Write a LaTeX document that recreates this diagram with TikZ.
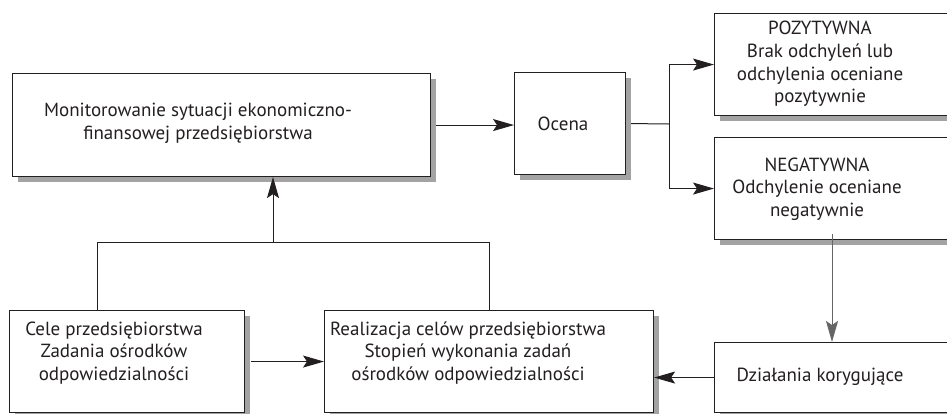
\documentclass[tikz,border=0pt]{standalone}
\usepackage{fontspec}
\setmainfont{PT Sans}
\usetikzlibrary{arrows.meta,shadows}
\definecolor{shad}{HTML}{A3A3A3}
\definecolor{ink}{HTML}{231F20}
\tikzset{
  box/.style={draw=ink, line width=1.1pt, fill=white, rectangle, anchor=north west, inner sep=0pt,
    general shadow={fill=shad, shadow xshift=5pt, shadow yshift=-5pt}},
  txt/.style={align=center, inner sep=0pt, font=\fontsize{19}{22.7}\selectfont, text=ink},
  conn/.style={draw=ink, line width=1pt},
  arr/.style={conn, -{Stealth[length=21pt, width=12pt, inset=4pt]}},
}
\begin{document}
\begin{tikzpicture}[x=1pt, y=-1pt]
\useasboundingbox (0,0) rectangle (947,413);
% boxes
\node[box, minimum width=418pt, minimum height=103pt] (mon) at (12,73) {};
\node[box, minimum width=111pt, minimum height=102pt] (oc) at (514,72) {};
\node[box, minimum width=250pt, minimum height=102pt] (poz) at (714,13) {};
\node[box, minimum width=250pt, minimum height=102pt] (neg) at (714,137) {};
\node[box, minimum width=235pt, minimum height=102pt] (cele) at (9,310) {};
\node[box, minimum width=329pt, minimum height=102pt] (real) at (324,310) {};
\node[box, minimum width=250pt, minimum height=70pt] (dz) at (714,342) {};
% texts
\node[txt] (tmon) at (198,123) {Monitorowanie sytuacji ekonomiczno-\\finansowej przedsiębiorstwa};
\node[txt] (toc) at (563,124) {Ocena};
\node[txt] (tpoz) at (820,64) {POZYTYWNA\\Brak odchyleń lub\\odchylenia oceniane\\pozytywnie};
\node[txt] (tneg) at (817,189) {NEGATYWNA\\Odchylenie oceniane\\negatywnie};
\node[txt] (tcele) at (114,353) {Cele przedsiębiorstwa\\Zadania ośrodków\\odpowiedzialności};
\node[txt] (treal) at (468,353) {Realizacja celów przedsiębiorstwa\\Stopień wykonania zadań\\ośrodków odpowiedzialności};
\node[txt] (tdz) at (820,377) {Działania korygujące};
% connectors
\coordinate (br) at (669,124);
\coordinate (nx) at (832,0);
\coordinate (jl) at (97,242);
\coordinate (jr) at (489,242);
\coordinate (jm) at (273,242);
\draw[arr] ([xshift=5pt]mon.east) -- (mon.east -| oc.west);
\draw[conn] ([xshift=5pt]oc.east) -- (br);
\draw[conn] (br |- poz.west) -- (br |- neg.west);
\draw[arr] (br |- poz.west) -- (poz.west);
\draw[arr] (br |- neg.west) -- (neg.west);
\draw[arr, draw=black!60] ([yshift=6pt]nx |- neg.south) -- (nx |- dz.north);
\draw[arr] (dz.west) -- (dz.west -| real.east);
\draw[arr] ([xshift=6pt]cele.east) -- (cele.east -| real.west);
\draw[conn] (jl |- cele.north) -- (jl) -- (jr) -- (jr |- real.north);
\draw[arr] (jm) -- (jm |- mon.south);
\end{tikzpicture}
\end{document}
